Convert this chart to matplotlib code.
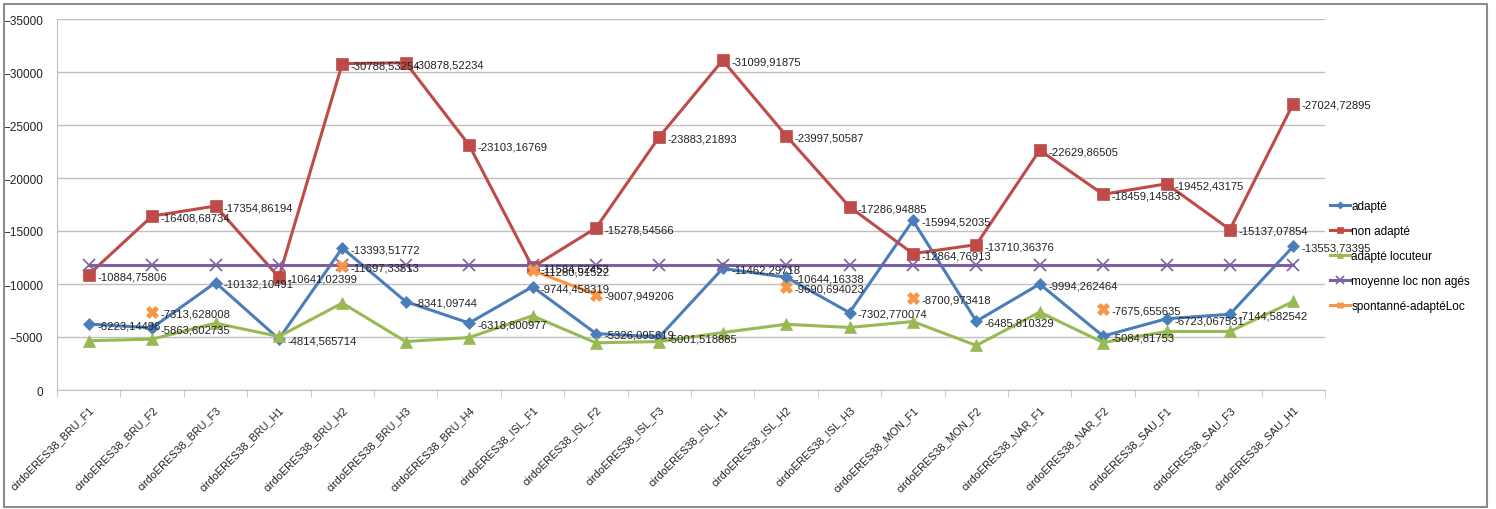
import numpy as np
import matplotlib.pyplot as plt
from matplotlib.patches import Rectangle

plt.rcParams['font.family'] = ['Liberation Sans', 'DejaVu Sans']

speakers = ["BRU_F1", "BRU_F2", "BRU_F3", "BRU_H1", "BRU_H2", "BRU_H3", "BRU_H4",
            "ISL_F1", "ISL_F2", "ISL_F3", "ISL_H1", "ISL_H2", "ISL_H3",
            "MON_F1", "MON_F2", "NAR_F1", "NAR_F2", "SAU_F1", "SAU_F3", "SAU_H1"]
categories = ["cirdoERES38_" + s for s in speakers]

adapte = [-6223.14496, -5863.602735, -10132.10491, -4814.565714, -13393.51772,
          -8341.09744, -6318.800977, -9744.458319, -5326.095619, -5001.518885,
          -11462.29718, -10644.16338, -7302.770074, -15994.52035, -6485.810329,
          -9994.262464, -5084.81753, -6723.067531, -7144.582542, -13553.73395]

non_adapte = [-10884.75806, -16408.68734, -17354.86194, -10641.02399, -30788.53254,
              -30878.52234, -23103.16769, -11584.62453, -15278.54566, -23883.21893,
              -31099.91875, -23997.50587, -17286.94885, -12864.76913, -13710.36376,
              -22629.86505, -18459.14583, -19452.43175, -15137.07854, -27024.72895]

adapte_loc = [-4650, -4800, -6300, -5050, -8200, -4570, -4950, -7000, -4450, -4570,
              -5420, -6200, -5900, -6460, -4200, -7350, -4480, -5520, -5520, -8350]

moyenne_non_ages = [-11780] * 20

nan = np.nan
spontane = [nan, -7313.628008, nan, nan, -11697.33513, nan, nan, -11280.91522,
            -9007.949206, nan, nan, -9690.694023, nan, -8700.973418, nan, nan,
            -7675.655635, nan, nan, nan]

W, H = 1496, 510
fig = plt.figure(figsize=(W / 100, H / 100), dpi=100)
ax = fig.add_axes([57 / W, 1 - 391 / H, (1325 - 57) / W, (391 - 20) / H])

x = np.arange(len(categories))

series = [
    (adapte, "adapté", "#4A7EBB", "D", 6, True),
    (non_adapte, "non adapté", "#BE4B48", "s", 8, True),
    (adapte_loc, "adapté locuteur", "#98B954", "^", 8, False),
    (moyenne_non_ages, "moyenne loc non agés", "#7D60A0", "x", 9, False),
    (spontane, "spontanné-adaptéLoc", "#F79646", "X", 8, True),
]

for vals, name, col, mk, ms, labelled in series:
    ax.plot(x, vals, color=col, lw=2.2, marker=mk, ms=ms, mew=1.2 if mk == "x" else 0.5,
            mec=col, label=name, zorder=3)
    if labelled:
        for xi, v in zip(x, vals):
            if np.isnan(v):
                continue
            ax.annotate(str(v).replace(".", ","), (xi, v), xytext=(6, -1),
                        textcoords="offset points", va="center", ha="left",
                        fontsize=8.1, color="#222222", zorder=4)

ax.set_xlim(-0.5, len(categories) - 0.5)
ax.set_ylim(0, -35000)
ax.set_yticks(np.arange(0, -35001, -5000))
ax.yaxis.grid(True, color="#BFBFBF", lw=1)
ax.set_axisbelow(True)
ax.tick_params(axis="y", length=0, labelsize=8.5, colors="#222222", pad=10)

ax.set_xticks(x)
ax.set_xticklabels(categories, rotation=45, ha="right", rotation_mode="anchor",
                   fontsize=7.8, color="#222222")
ax.set_xticks(np.arange(-0.5, len(categories)), minor=True)
ax.tick_params(axis="x", which="major", length=0, pad=10)
ax.tick_params(axis="x", which="minor", length=5, color="#BFBFBF", direction="out")

for side in ["top", "right"]:
    ax.spines[side].set_visible(False)
ax.spines["left"].set_color("#BFBFBF")
ax.spines["bottom"].set_color("#BFBFBF")

ax.legend(loc="center left", bbox_to_anchor=(1330 / W, 1 - 257 / H), bbox_transform=fig.transFigure,
          frameon=False, fontsize=8.5, handlelength=1.7, handletextpad=0.1,
          labelspacing=1.1, markerscale=0.6, borderaxespad=0, borderpad=0)

fig.patches.append(Rectangle((4 / W, 2 / H), (1487 - 4) / W, (505 - 2) / H,
                             transform=fig.transFigure, fill=False,
                             edgecolor="#8C8C8C", lw=1.5))

fig.savefig("out.png", dpi=100)
